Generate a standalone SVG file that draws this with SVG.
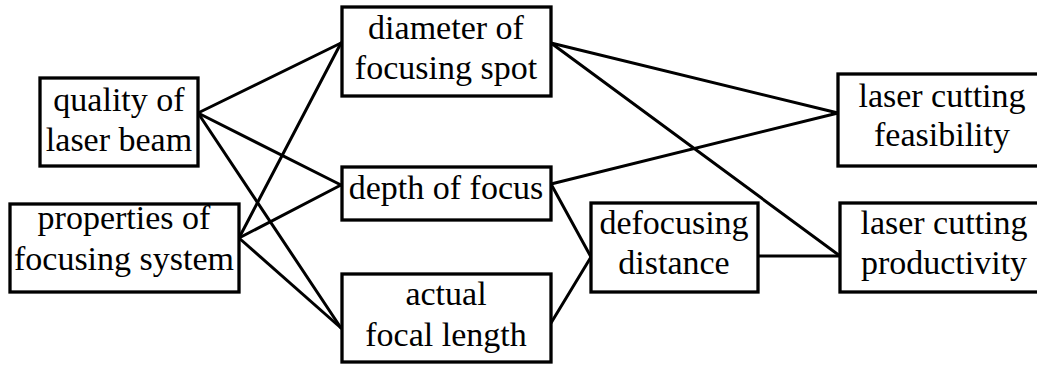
<svg xmlns="http://www.w3.org/2000/svg" width="1037" height="366" viewBox="0 0 1037 366">
  <style>
    .box { fill: #ffffff; stroke: #000000; stroke-width: 3.3; }
    .lbl { font-family: "Liberation Serif", "Times New Roman", serif; font-size: 34px; fill: #000000; text-anchor: middle; }
    .link { stroke: #000000; stroke-width: 3; fill: none; stroke-linecap: round; }
  </style>
  <rect x="0" y="0" width="1037" height="366" fill="#ffffff"/>

  <!-- connectors -->
  <g id="connectors">
    <line class="link" x1="198" y1="113" x2="341" y2="43"/>
    <line class="link" x1="198" y1="113" x2="341" y2="185"/>
    <line class="link" x1="198" y1="113" x2="341" y2="328"/>
    <line class="link" x1="239" y1="238" x2="341" y2="43"/>
    <line class="link" x1="239" y1="238" x2="341" y2="185"/>
    <line class="link" x1="239" y1="238" x2="341" y2="328"/>
    <line class="link" x1="551" y1="43" x2="838" y2="113"/>
    <line class="link" x1="551" y1="43" x2="840" y2="256"/>
    <line class="link" x1="551" y1="184" x2="838" y2="113"/>
    <line class="link" x1="551" y1="184" x2="591" y2="257"/>
    <line class="link" x1="551" y1="323" x2="591" y2="257"/>
    <line class="link" x1="758" y1="256" x2="840" y2="256"/>
  </g>

  <g id="quality">
    <rect class="box" x="40" y="78" width="158" height="88"/>
    <text class="lbl" x="119" y="111">quality of</text>
    <text class="lbl" x="119" y="151">laser beam</text>
  </g>

  <g id="properties">
    <rect class="box" x="10" y="204" width="229" height="88"/>
    <text class="lbl" x="124" y="229">properties of</text>
    <text class="lbl" x="124" y="270">focusing system</text>
  </g>

  <g id="diameter">
    <rect class="box" x="342" y="7" width="209" height="89"/>
    <text class="lbl" x="446" y="39">diameter of</text>
    <text class="lbl" x="446" y="79">focusing spot</text>
  </g>

  <g id="depth">
    <rect class="box" x="342" y="167" width="209" height="53"/>
    <text class="lbl" x="446" y="199">depth of focus</text>
  </g>

  <g id="actual">
    <rect class="box" x="342" y="274" width="209" height="88"/>
    <text class="lbl" x="446" y="305">actual</text>
    <text class="lbl" x="446" y="346">focal length</text>
  </g>

  <g id="defocusing">
    <rect class="box" x="591" y="203" width="167" height="89"/>
    <text class="lbl" x="674" y="234">defocusing</text>
    <text class="lbl" x="674" y="274">distance</text>
  </g>

  <g id="feasibility">
    <rect class="box" x="838" y="74" width="210" height="92"/>
    <text class="lbl" x="942" y="107">laser cutting</text>
    <text class="lbl" x="942" y="146">feasibility</text>
  </g>

  <g id="productivity">
    <rect class="box" x="840" y="203" width="210" height="89"/>
    <text class="lbl" x="944" y="234">laser cutting</text>
    <text class="lbl" x="944" y="274">productivity</text>
  </g>
</svg>
